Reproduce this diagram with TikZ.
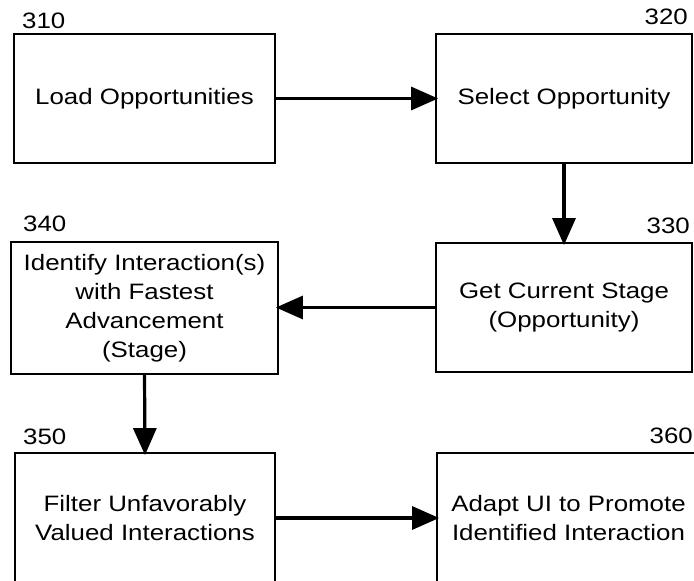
\documentclass[tikz,border=0pt]{standalone}
\usepackage{fontspec}
\setmainfont{Liberation Sans}[FakeStretch=1.16]
\usetikzlibrary{arrows.meta}

\tikzset{
  stepbox/.style={draw, line width=1.8pt, rectangle, align=center, inner sep=0pt,
    font=\fontsize{22.3}{29}\selectfont},
  steplabel/.style={inner sep=0pt, font=\fontsize{22.3}{24}\selectfont},
  flow/.style={line width=3.2pt, shorten >=-3pt, -{Triangle[length=27pt,width=23pt]}}
}

\begin{document}
\begin{tikzpicture}[x=1pt,y=-1pt]
   \useasboundingbox (0,0) rectangle (694,581);

   % boxes
   \node[stepbox, minimum width=261pt, minimum height=129pt] (b310) at (144.5,98.5) {Load Opportunities};
   \node[stepbox, minimum width=256pt, minimum height=129pt] (b320) at (564,98.5) {Select Opportunity};
   \node[stepbox, minimum width=256pt, minimum height=129pt] (b330) at (564,307.5) {Get Current Stage\\(Opportunity)};
   \node[stepbox, minimum width=267pt, minimum height=132pt] (b340) at (144.5,308) {Identify Interaction(s)\\with Fastest\\Advancement\\(Stage)};
   \node[stepbox, minimum width=260pt, minimum height=130pt] (b350) at (145,518) {Filter Unfavorably\\Valued Interactions};
   \node[stepbox, minimum width=263pt, minimum height=130pt] (b360) at (568.5,518) {Adapt UI to Promote\\Identified Interaction};

   % reference numbers
   \node[steplabel, anchor=west] (l310) at (22,21) {310};
   \node[steplabel, anchor=east] (l320) at (688,17) {320};
   \node[steplabel, anchor=east] (l330) at (690,226) {330};
   \node[steplabel, anchor=west] (l340) at (23,224) {340};
   \node[steplabel, anchor=west] (l350) at (23,437) {350};
   \node[steplabel, anchor=east] (l360) at (693,436) {360};

   % flow
   \draw[flow] (b310.east) -- (b320.west);
   \draw[flow] (b320.south) -- (b330.north);
   \draw[flow] (b330.west) -- (b340.east |- b330.west);
   \draw[flow] (b340.south) -- (b350.north);
   \draw[flow] (b350.east) -- (b360.west |- b350.east);
\end{tikzpicture}
\end{document}
